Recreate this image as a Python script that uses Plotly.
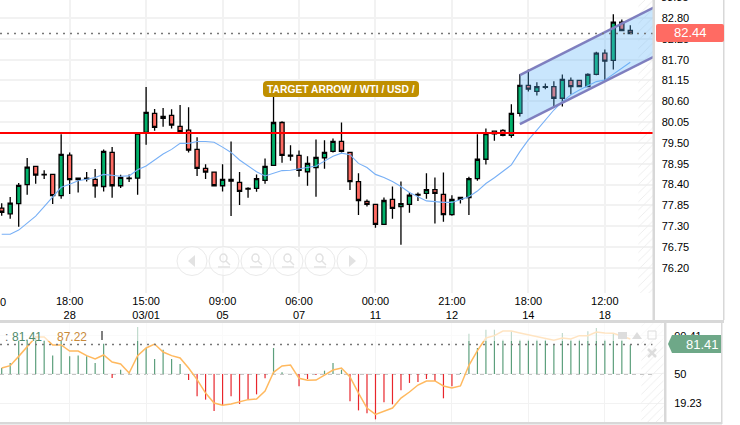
import plotly.graph_objects as go

W, H = 740, 425

opens = [77.78,77.63,77.90,78.40,78.88,78.67,78.67,78.11,79.18,78.57,
78.57,78.54,78.35,79.25,78.37,78.57,78.57,79.78,80.28,80.15,
80.23,79.94,79.84,79.33,78.83,78.73,78.37,78.54,78.46,78.30,
78.30,78.51,78.91,80.04,79.18,79.17,78.74,78.85,79.11,79.28,
79.54,79.25,78.48,77.96,77.88,77.35,78.01,77.82,77.88,78.14,
78.17,78.27,78.14,77.61,78.01,78.06,78.56,79.07,79.81,79.83,
79.70,80.28,81.02,80.86,80.99,80.99,80.68,81.15,81.15,80.99,
81.31,81.87,81.68,82.69,82.47]
highs = [77.91,78.07,78.44,79.10,78.88,78.78,78.67,79.73,79.25,78.57,
78.73,78.81,79.33,79.39,78.66,78.67,79.76,80.98,80.40,80.42,
80.39,80.50,80.44,79.65,78.94,78.73,78.94,79.54,78.73,78.33,
78.67,79.09,80.74,80.07,79.44,79.30,79.15,79.59,79.57,79.62,
80.04,79.25,78.70,78.01,77.88,78.06,78.35,78.48,78.19,78.19,
78.70,78.59,78.72,78.12,78.08,78.61,79.73,79.88,79.81,79.86,
80.52,81.32,81.44,81.10,81.07,81.13,81.31,81.23,81.15,81.34,
81.91,81.97,82.90,82.76,82.61]
lows = [77.58,77.50,77.29,78.13,78.42,78.55,77.89,78.03,78.15,78.19,
78.48,78.05,78.22,78.05,78.31,78.47,78.13,79.45,79.82,79.93,
79.88,79.80,79.25,78.63,78.55,78.36,78.22,77.57,77.86,78.05,
78.21,78.42,78.91,78.98,79.03,78.61,78.37,78.08,78.82,79.25,
79.25,78.26,77.60,77.82,77.26,77.35,77.50,76.81,77.66,77.97,
78.03,77.37,77.42,77.58,77.90,77.60,78.50,78.93,79.56,79.68,
79.64,80.20,80.86,80.75,80.92,80.46,80.46,80.78,80.99,80.97,
81.29,81.15,81.44,82.45,82.37]
closes = [77.67,77.91,78.38,78.86,78.65,78.66,78.11,79.20,78.53,78.53,
78.55,78.37,79.28,78.37,78.59,78.56,79.76,80.31,79.91,80.20,
79.97,79.80,79.31,78.83,78.73,78.37,78.54,78.49,78.22,78.28,
78.56,78.88,80.04,79.17,79.15,78.78,78.96,79.12,79.25,79.54,
79.28,78.48,77.98,77.88,77.35,77.98,77.77,77.90,78.12,78.12,
78.27,78.17,77.61,78.01,78.06,78.56,79.07,79.75,79.74,79.70,
80.28,81.02,80.92,80.99,80.97,80.68,81.18,80.99,80.99,81.31,
81.87,81.66,82.69,82.47,82.39]
moving_avg = [77.09,77.09,77.20,77.38,77.57,77.82,78.08,78.33,78.41,78.50,
78.54,78.59,78.67,78.65,78.62,78.63,78.79,78.89,79.05,79.21,
79.33,79.49,79.49,79.54,79.54,79.52,79.39,79.25,79.05,78.89,
78.74,78.63,78.71,78.77,78.78,78.81,78.85,78.89,79.02,79.15,
79.23,79.19,78.96,78.85,78.67,78.59,78.48,78.35,78.19,78.08,
77.97,77.95,77.93,77.93,78.01,78.08,78.23,78.43,78.58,78.74,
78.92,79.27,79.58,79.84,80.12,80.37,80.59,80.77,80.90,81.00,
81.12,81.16,81.32,81.47,81.63]
osc_hist = [56.4,61.7,85.7,85.7,90.0,85.7,69.5,85.7,68.7,69.5,
68.7,61.7,82.2,45.8,54.6,50.4,99.9,77.6,65.9,75.8,
65.9,60.6,43.6,26.3,22.8,10.7,16.8,26.3,18.2,22.8,
28.4,45.4,77.6,51.8,50.0,36.9,44.7,48.9,53.5,61.7,
54.6,21.0,11.4,8.3,1.9,19.9,17.8,32.7,40.5,41.5,
44.7,42.6,24.2,36.9,51.1,92.8,77.6,97.0,97.0,86.4,
95.3,86.4,86.4,86.4,86.4,81.1,93.5,86.4,86.4,95.3,
98.8,86.4,93.5,86.4,81.1]
osc_signal = [56.4,58.8,68.7,79.4,89.3,89.3,80.8,80.8,74.4,74.4,
69.5,65.9,70.2,62.7,60.6,51.1,69.5,77.6,81.8,73.3,
69.5,67.0,56.4,44.0,29.8,19.2,16.8,18.2,20.3,22.8,
23.5,32.0,51.8,58.5,59.5,45.4,43.3,43.6,48.9,54.2,
56.4,46.8,29.8,13.9,7.2,10.7,13.9,24.5,30.9,38.3,
42.6,42.6,37.3,35.1,37.3,59.2,74.8,88.2,90.7,95.6,
95.6,93.5,91.7,90.0,88.2,85.7,88.2,87.1,90.7,90.7,
94.6,93.5,93.2,90.0,87.1]

time_ticks = [8, 17, 26, 35, 44, 53, 62, 71]
time_labels = ["18:00<br>28","15:00<br>03/01","09:00<br>05","06:00<br>07",
               "00:00<br>11","21:00<br>12","18:00<br>14","12:00<br>18"]
price_ticks = [82.80,82.25,81.70,81.15,80.60,80.05,79.50,78.95,78.40,77.85,77.30,76.75,76.20]
osc_ticks = [90.41, 50, 19.23]
osc_labels = ["90.41", "50", "19.23"]
support_level = 79.76
last_price = 82.39
osc_level = 81.41
channel_x = [61.0, 76.8]
channel_upper = [81.29, 83.08]
channel_lower = [80.00, 81.78]

idx = list(range(len(closes)))
PX = lambda x: x / W
PY = lambda y: 1 - y / H

fig = go.Figure()

hatch = dict(color="rgba(255,255,255,0.01)", line_width=0,
             pattern=dict(shape="/", fgcolor="#ececec", fgopacity=1, size=6, solidity=0.15))
fig.add_trace(go.Bar(x=[75.9], y=[83.275-75.538], base=[75.538], width=[1.9], marker=hatch,
                     xaxis="x", yaxis="y", hoverinfo="skip"))
fig.add_trace(go.Bar(x=[76.6], y=[105], base=[-0.93], width=[2.6], marker=hatch,
                     xaxis="x2", yaxis="y2", hoverinfo="skip"))

fig.add_trace(go.Scatter(x=idx, y=moving_avg, mode="lines", line=dict(color="#78b0f6", width=1.1),
                         xaxis="x", yaxis="y"))
fig.add_trace(go.Candlestick(x=idx, open=opens, high=highs, low=lows, close=closes,
    increasing=dict(fillcolor="#00b16a", line=dict(color="#000000", width=1.3)),
    decreasing=dict(fillcolor="#ff6b63", line=dict(color="#000000", width=1.3)),
    whiskerwidth=0, xaxis="x", yaxis="y"))
fig.add_trace(go.Scatter(x=channel_x + channel_x[::-1], y=channel_lower + channel_upper[::-1],
    mode="lines", fill="toself", fillcolor="rgba(90,180,250,0.33)", line=dict(width=0),
    xaxis="x", yaxis="y", hoverinfo="skip"))
for edge in (channel_upper, channel_lower):
    fig.add_trace(go.Scatter(x=channel_x, y=edge, mode="lines",
        line=dict(color="#7f7fbf", width=2.5), xaxis="x", yaxis="y", hoverinfo="skip"))

# oscillator histogram as thin stems from the 50 line
def stems(keep, color):
    xs, ys = [], []
    for i, v in zip(idx, osc_hist):
        if keep(v):
            xs += [i, i, None]
            ys += [50, v, None]
    return go.Scatter(x=xs, y=ys, mode="lines", line=dict(color=color, width=1.2),
                      xaxis="x2", yaxis="y2", hoverinfo="skip")
fig.add_trace(stems(lambda v: v >= 50, "#5c9f7c"))
fig.add_trace(stems(lambda v: v < 50, "#e8262c"))
fig.add_trace(go.Scatter(x=idx, y=osc_signal, mode="lines", line=dict(color="#ffb95f", width=1.5),
                         xaxis="x2", yaxis="y2"))

grid = "#f2f2f2"
tick_font = dict(family="Liberation Sans, Arial, sans-serif", size=11, color="#000000")
dot = "#777777"

shapes = [
    dict(type="line", xref="x", yref="y", x0=-0.2, x1=76.73, y0=support_level, y1=support_level,
         line=dict(color="#ff0000", width=2), layer="above"),
    dict(type="line", xref="x", yref="y", x0=-0.2, x1=76.73, y0=last_price, y1=last_price,
         line=dict(color=dot, width=1.5, dash="2px,5px"), layer="above"),
    dict(type="line", xref="x2", yref="y2", x0=-0.2, x1=76.6, y0=osc_level, y1=osc_level,
         line=dict(color=dot, width=1.5, dash="2px,5px"), layer="above"),
    dict(type="line", xref="x2", yref="y2", x0=-0.2, x1=76.6, y0=50, y1=50,
         line=dict(color="#888888", width=1, dash="4px,4px"), layer="below"),
    dict(type="rect", xref="paper", yref="paper", x0=0, x1=PX(664), y0=PY(341), y1=PY(323),
         fillcolor="rgba(255,255,255,0.62)", line_width=0, layer="above"),
]

def frame(x0, y0, x1, y1, color="#d8d8d8"):
    shapes.append(dict(type="rect", xref="paper", yref="paper", x0=PX(x0), x1=PX(x1), y0=PY(y0), y1=PY(y1),
                       fillcolor=color, line_width=0, layer="above"))
frame(0, 320, 724, 323)
frame(0, 422, 722, 424.5)
frame(652.5, 0, 655, 320)
frame(723, 0, 724.5, 320)
frame(664, 322, 666.5, 424)
frame(721, 322, 722.5, 424)

def rounded(x0, y0, x1, y1, r, color):
    d = (f"M{PX(x0+r)},{PY(y0)} L{PX(x1-r)},{PY(y0)} Q{PX(x1)},{PY(y0)} {PX(x1)},{PY(y0+r)} "
         f"L{PX(x1)},{PY(y1-r)} Q{PX(x1)},{PY(y1)} {PX(x1-r)},{PY(y1)} L{PX(x0+r)},{PY(y1)} "
         f"Q{PX(x0)},{PY(y1)} {PX(x0)},{PY(y1-r)} L{PX(x0)},{PY(y0+r)} Q{PX(x0)},{PY(y0)} {PX(x0+r)},{PY(y0)} Z")
    shapes.append(dict(type="path", xref="paper", yref="paper", path=d, fillcolor=color, line_width=0, layer="above"))
rounded(656, 24, 724, 42, 2, "#ff6b63")
rounded(263, 81, 419, 97, 4, "#bf8f00")
shapes.append(dict(type="path", xref="paper", yref="paper",
    path=f"M{PX(668)},{PY(344)} L{PX(672)},{PY(335)} L{PX(721)},{PY(335)} L{PX(721)},{PY(353)} L{PX(672)},{PY(353)} Z",
    fillcolor="#6ea888", line_width=0, layer="above"))

nav_c = "#eaeaea"
icon_c = "#e2e2e2"
nav_centres = [192, 224, 256, 288, 320, 352]
for cx in nav_centres:
    shapes.append(dict(type="circle", xref="paper", yref="paper", x0=PX(cx-15), x1=PX(cx+15),
                       y0=PY(261-14.5), y1=PY(261+14.5), line=dict(color=nav_c, width=1),
                       fillcolor="rgba(255,255,255,0.5)", layer="above"))
for cx in nav_centres[1:5]:
    shapes.append(dict(type="circle", xref="paper", yref="paper", x0=PX(cx-4), x1=PX(cx+3),
                       y0=PY(254), y1=PY(262), line=dict(color=icon_c, width=1.5), layer="above"))
    shapes.append(dict(type="line", xref="paper", yref="paper", x0=PX(cx+2), x1=PX(cx+6),
                       y0=PY(261), y1=PY(265), line=dict(color=icon_c, width=1.5), layer="above"))
    shapes.append(dict(type="line", xref="paper", yref="paper", x0=PX(cx-6), x1=PX(cx+6),
                       y0=PY(267), y1=PY(267), line=dict(color=icon_c, width=1.5), layer="above"))
for cx, d in ((192, -1), (352, 1)):
    shapes.append(dict(type="path", xref="paper", yref="paper",
        path=f"M{PX(cx+d*4)},{PY(261)} L{PX(cx-d*3)},{PY(255)} L{PX(cx-d*3)},{PY(267)} Z",
        fillcolor=icon_c, line_width=0, layer="above"))

shapes += [
    dict(type="rect", xref="paper", yref="paper", x0=PX(618), x1=PX(627), y0=PY(332), y1=PY(339),
         fillcolor="#dddddd", line_width=0, layer="above"),
    dict(type="path", xref="paper", yref="paper",
         path=f"M{PX(632)},{PY(339)} L{PX(637)},{PY(332)} L{PX(642)},{PY(339)} Z",
         fillcolor="#dddddd", line_width=0, layer="above"),
    dict(type="rect", xref="paper", yref="paper", x0=PX(648), x1=PX(656), y0=PY(331), y1=PY(339),
         line=dict(color="#dddddd", width=1), layer="above"),
    dict(type="line", xref="paper", yref="paper", x0=PX(648), x1=PX(656), y0=PY(349), y1=PY(357),
         line=dict(color="#dddddd", width=2.5), layer="above"),
    dict(type="line", xref="paper", yref="paper", x0=PX(648), x1=PX(656), y0=PY(357), y1=PY(349),
         line=dict(color="#dddddd", width=2.5), layer="above"),
    dict(type="line", xref="paper", yref="paper", x0=PX(102), x1=PX(102), y0=PY(331), y1=PY(340),
         line=dict(color="#000000", width=1), layer="above"),
]

def note(text, x, y, size=12, color="#000000", anchor="center", bold=False):
    return dict(text=f"<b>{text}</b>" if bold else text, x=PX(x), y=PY(y), xref="paper", yref="paper",
                showarrow=False, xanchor=anchor, yanchor="middle",
                font=dict(family="Liberation Sans, Arial, sans-serif", size=size, color=color))

annotations = [
    note("82.44", 690, 33, 13, "#ffffff"),
    note("81.41", 702.5, 344, 13, "#ffffff"),
    note("TARGET ARROW / WTI / USD /", 341, 89, 10.3, "#ffffff", bold=True),
    note("83.35", 659, -3, 11, anchor="left"),
    note("0", 2.5, 302, 11),
    note(":", 6, 337, 12, "#666666"),
    note("81.41", 9.5, 337, 12, "#4f8a6b", anchor="left"),
    note("87.22", 54.5, 337, 12, "#c98a3a", anchor="left"),
]

fig.update_layout(
    width=W, height=H, margin=dict(l=0, r=0, t=0, b=0), autosize=False,
    paper_bgcolor="#ffffff", plot_bgcolor="#ffffff", showlegend=False, barmode="overlay",
    shapes=shapes, annotations=annotations,
    xaxis=dict(domain=[0, PX(653.5)], range=[-0.2, 76.73], rangeslider=dict(visible=False),
               tickmode="array", tickvals=time_ticks, ticktext=time_labels, tickfont=tick_font,
               ticks="", showgrid=True, gridcolor=grid, gridwidth=1.5, zeroline=False, anchor="y"),
    yaxis=dict(domain=[PY(293), 1], range=[75.538, 83.275], side="right", tickmode="array",
               tickvals=price_ticks, ticktext=[f"{v:.2f}" for v in price_ticks], tickfont=tick_font,
               ticks="outside", ticklen=5, tickcolor="rgba(0,0,0,0)", showgrid=True, gridcolor=grid, gridwidth=1.5,
               zeroline=False, anchor="x"),
    xaxis2=dict(domain=[0, PX(665)], range=[-0.2, 78.08], showticklabels=False, tickmode="array",
                tickvals=time_ticks, ticks="", showgrid=True, gridcolor=grid, gridwidth=1, zeroline=False, anchor="y2"),
    yaxis2=dict(domain=[PY(422), PY(323)], range=[-0.93, 104.1], side="right", tickmode="array",
                tickvals=osc_ticks, ticktext=osc_labels, tickfont=tick_font, ticks="outside", ticklen=6,
                tickcolor="rgba(0,0,0,0)", showgrid=True, gridcolor=grid, gridwidth=1, zeroline=False, anchor="x2"),
)

fig.write_html("out.html", config={"displayModeBar": False},
               post_script="document.body.style.margin='0';document.body.style.overflow='hidden';")
